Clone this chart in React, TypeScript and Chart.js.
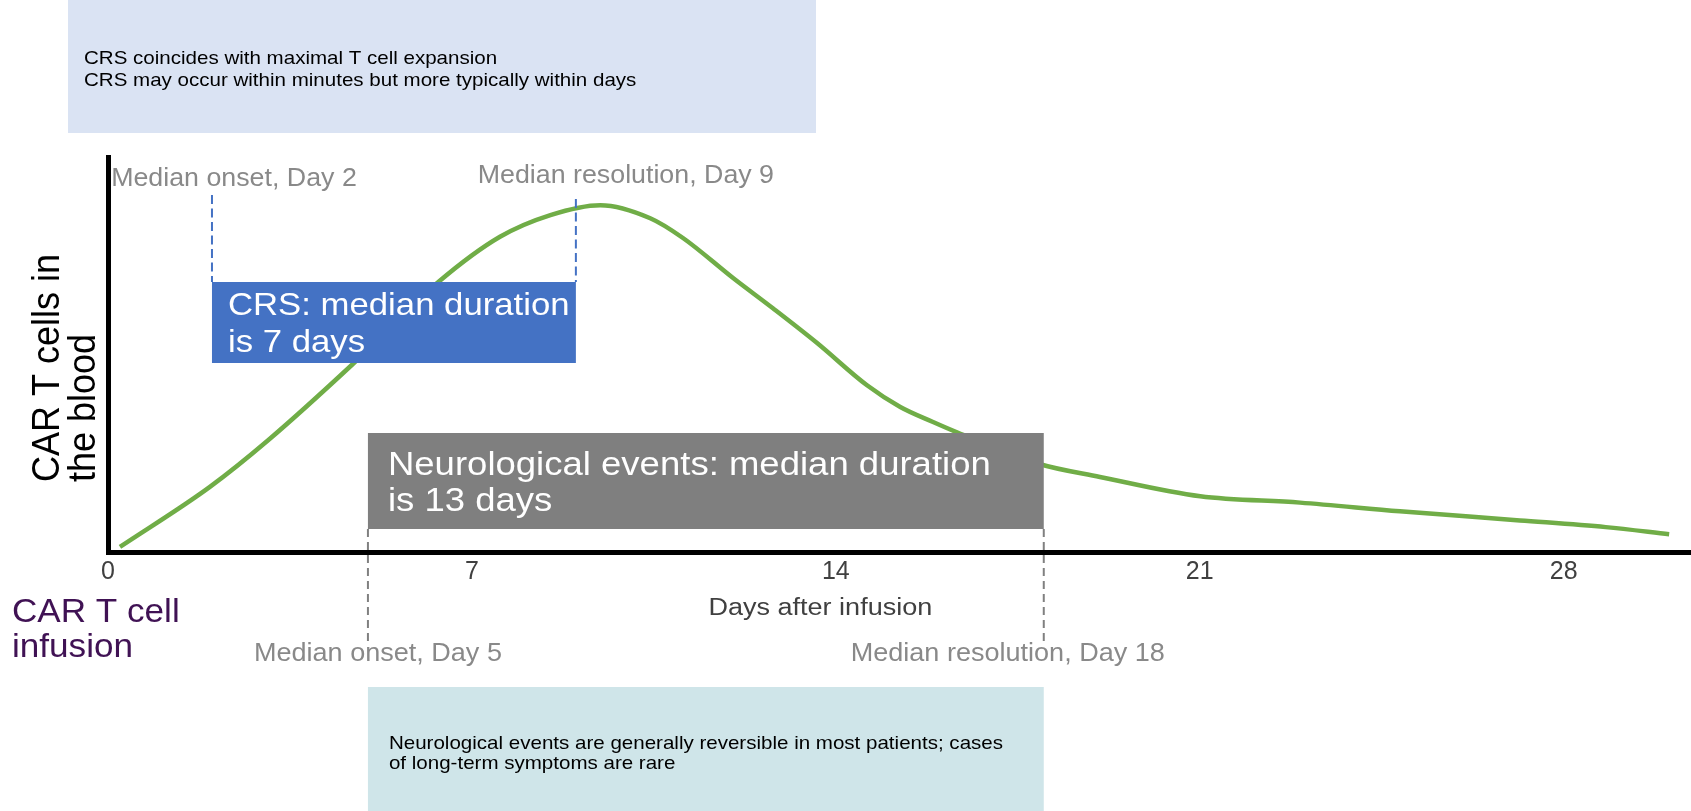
import { useEffect, useRef } from "react";
import { Chart, registerables } from "chart.js";

Chart.register(...registerables);

// ---- data -------------------------------------------------------------
// Days after infusion shown on the x axis
const DAY_TICKS = [0, 7, 14, 21, 28];
const X_MAX = 30.45;

// CAR T cell level in the blood (relative units, 0-100) by day
const CURVE_DAYS = [
  0.23, 1.96, 3.08, 4.71, 6.36, 7.54, 8.51, 9.47, 10.43, 11.06, 12.03, 12.79,
  13.64, 14.6, 15.24, 15.87, 16.33, 17.88, 19.08, 21.01, 22.93, 24.85, 27.16,
  28.81, 30.03,
];
const CURVE_LEVELS = [
  1.3, 16.5, 28.3, 47.6, 68.4, 79.8, 85.3, 87.8, 84.5, 79.5, 69.3, 61.7, 52.9,
  42.2, 36.7, 32.9, 30.3, 22.4, 19.0, 14.1, 12.5, 10.3, 8.0, 6.3, 4.5,
];

// Median onset / resolution days
const CRS_ONSET_DAY = 2;
const CRS_RESOLUTION_DAY = 9;
const NEURO_ONSET_DAY = 5;
const NEURO_RESOLUTION_DAY = 18;

// ---- texts ------------------------------------------------------------
const TOP_NOTE = [
  "CRS coincides with maximal T cell expansion",
  "CRS may occur within minutes but more typically within days",
];
const BOTTOM_NOTE = [
  "Neurological events are generally reversible in most patients; cases",
  "of long-term symptoms are rare",
];
const CRS_LABEL = ["CRS: median duration", `is ${CRS_RESOLUTION_DAY - CRS_ONSET_DAY} days`];
const NEURO_LABEL = [
  "Neurological events: median duration",
  `is ${NEURO_RESOLUTION_DAY - NEURO_ONSET_DAY} days`,
];
const Y_TITLE = ["CAR T cells in", "the blood"];
const X_TITLE = "Days after infusion";
const INFUSION_LABEL = ["CAR T cell", "infusion"];

// ---- styling ----------------------------------------------------------
const FONT = '"Liberation Sans", Arial, Helvetica, sans-serif';
const WIDTH = 1691;
const HEIGHT = 811;
const PLOT_TOP = 157;
const PLOT_BOTTOM = 552;
const PLOT_LEFT = 108;

const COLORS = {
  curve: "#70ad47",
  crs: "#4472c4",
  neuro: "#7f7f7f",
  topPanel: "#dae3f3",
  bottomPanel: "#cfe5e9",
  marker: "#898989",
  axisText: "#404040",
  infusion: "#401254",
};

function drawText(
  ctx: CanvasRenderingContext2D,
  text: string,
  x: number,
  y: number,
  size: number,
  sx: number,
  color: string,
  align: "left" | "center" = "left"
) {
  ctx.save();
  ctx.font = `${size}px ${FONT}`;
  ctx.fillStyle = color;
  ctx.textBaseline = "alphabetic";
  ctx.textAlign = "left";
  const w = ctx.measureText(text).width * sx;
  const left = align === "center" ? x - w / 2 : x;
  ctx.translate(left, y);
  ctx.scale(sx, 1);
  ctx.fillText(text, 0, 0);
  ctx.restore();
}

function dashedLine(
  ctx: CanvasRenderingContext2D,
  x: number,
  y1: number,
  y2: number,
  color: string,
  dash: number[]
) {
  ctx.save();
  ctx.strokeStyle = color;
  ctx.lineWidth = 2;
  ctx.setLineDash(dash);
  ctx.beginPath();
  ctx.moveTo(x, y1);
  ctx.lineTo(x, y2);
  ctx.stroke();
  ctx.restore();
}

const calloutPlugin = {
  id: "callouts",
  afterDatasetsDraw(chart: Chart) {
    const ctx = chart.ctx;
    const xs = chart.scales.x;
    const area = chart.chartArea;
    const px = (d: number) => xs.getPixelForValue(d);

    // top note panel
    ctx.fillStyle = COLORS.topPanel;
    ctx.fillRect(68, 0, 748, 133);
    TOP_NOTE.forEach((t, i) => drawText(ctx, t, 84, 64 + i * 22, 18.5, 1.11, "#000"));

    // CRS band
    const c0 = px(CRS_ONSET_DAY);
    const c1 = px(CRS_RESOLUTION_DAY);
    dashedLine(ctx, c0, 195, 282, COLORS.crs, [9, 4.5]);
    dashedLine(ctx, c1, 199, 282, COLORS.crs, [9, 4.5]);
    ctx.fillStyle = COLORS.crs;
    ctx.fillRect(c0, 282, c1 - c0, 81);
    CRS_LABEL.forEach((t, i) => drawText(ctx, t, c0 + 16, 315 + i * 37, 32, 1.085, "#fff"));
    drawText(ctx, `Median onset, Day ${CRS_ONSET_DAY}`, c0 + 22, 186, 26, 1.03, COLORS.marker, "center");
    drawText(ctx, `Median resolution, Day ${CRS_RESOLUTION_DAY}`, c1 + 50, 183, 26, 1.03, COLORS.marker, "center");

    // neurological events band
    const n0 = px(NEURO_ONSET_DAY);
    const n1 = px(NEURO_RESOLUTION_DAY);
    ctx.fillStyle = COLORS.neuro;
    ctx.fillRect(n0, 433, n1 - n0, 96);
    NEURO_LABEL.forEach((t, i) => drawText(ctx, t, n0 + 20, 475 + i * 36, 33.5, 1.09, "#fff"));
    dashedLine(ctx, n0, 529, 641, "#808080", [8, 5]);
    dashedLine(ctx, n1, 529, 641, "#808080", [8, 5]);
    drawText(ctx, `Median onset, Day ${NEURO_ONSET_DAY}`, n0 + 10, 661, 26, 1.04, COLORS.marker, "center");
    drawText(ctx, `Median resolution, Day ${NEURO_RESOLUTION_DAY}`, n1 - 36, 661, 26, 1.04, COLORS.marker, "center");

    // bottom note panel
    ctx.fillStyle = COLORS.bottomPanel;
    ctx.fillRect(n0, 687, n1 - n0, HEIGHT - 687);
    BOTTOM_NOTE.forEach((t, i) => drawText(ctx, t, n0 + 21, 749 + i * 20, 18.5, 1.11, "#000"));

    // x axis title
    const titleX = area.left + (area.right - area.left) * 0.45;
    drawText(ctx, X_TITLE, titleX, 615, 23.5, 1.15, COLORS.axisText, "center");

    // infusion label
    INFUSION_LABEL.forEach((t, i) => drawText(ctx, t, 12, 622 + i * 35, 32.5, 1.08, COLORS.infusion));

    // y axis title (rotated)
    Y_TITLE.forEach((t, i) => {
      ctx.save();
      ctx.font = `36px ${FONT}`;
      ctx.fillStyle = "#000";
      ctx.textAlign = "left";
      ctx.textBaseline = "alphabetic";
      ctx.translate(59 + i * 36, 482);
      ctx.scale(1.1, 1);
      ctx.rotate(-Math.PI / 2);
      ctx.fillText(t, 0, 0);
      ctx.restore();
    });
  },
};

export default function App() {
  const canvasRef = useRef<HTMLCanvasElement | null>(null);

  useEffect(() => {
    const canvas = canvasRef.current;
    if (!canvas) return;
    const chart = new Chart(canvas, {
      type: "line",
      data: {
        datasets: [
          {
            data: CURVE_DAYS.map((d, i) => ({ x: d, y: CURVE_LEVELS[i] })),
            borderColor: COLORS.curve,
            borderWidth: 4.5,
            pointRadius: 0,
            cubicInterpolationMode: "monotone",
            fill: false,
          },
        ],
      },
      options: {
        responsive: false,
        animation: false,
        devicePixelRatio: 1,
        layout: { padding: { top: PLOT_TOP, left: 0, right: 0, bottom: 0 } },
        plugins: { legend: { display: false }, tooltip: { enabled: false } },
        scales: {
          x: {
            type: "linear",
            min: 0,
            max: X_MAX,
            afterBuildTicks: (s: any) => {
              s.ticks = DAY_TICKS.map((v) => ({ value: v }));
            },
            afterFit: (s: any) => {
              s.height = HEIGHT - PLOT_BOTTOM;
            },
            grid: { display: false, drawTicks: false },
            border: { display: true, color: "#000", width: 5 },
            ticks: {
              autoSkip: false,
              maxRotation: 0,
              padding: 5,
              color: COLORS.axisText,
              font: { family: FONT, size: 25 },
              callback: (v: any) => String(v),
            },
          },
          y: {
            type: "linear",
            min: 0,
            max: 100,
            afterFit: (s: any) => {
              s.width = PLOT_LEFT;
            },
            grid: { display: false, drawTicks: false },
            border: { display: true, color: "#000", width: 5 },
            ticks: { display: false },
          },
        },
      },
      plugins: [calloutPlugin],
    });
    return () => chart.destroy();
  }, []);

  return (
    <div style={{ position: "fixed", left: 0, top: 0, width: WIDTH, height: HEIGHT, background: "#fff" }}>
      <canvas ref={canvasRef} width={WIDTH} height={HEIGHT} style={{ display: "block" }} />
    </div>
  );
}
